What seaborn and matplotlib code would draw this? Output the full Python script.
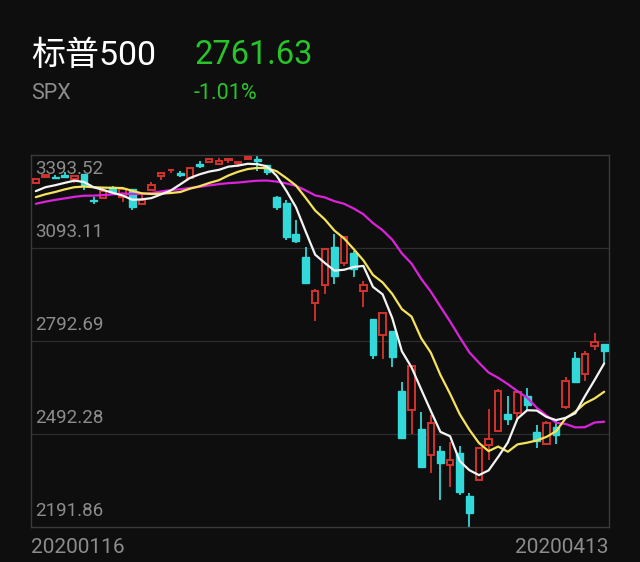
import numpy as np
import pandas as pd
import seaborn as sns
import matplotlib.pyplot as plt

# S&P 500 daily candles, 2020-01-16 .. 2020-04-13
dates = ["0116", "0117", "0121", "0122", "0123", "0124", "0127", "0128", "0129", "0130",
         "0131", "0203", "0204", "0205", "0206", "0207", "0210", "0211", "0212", "0213",
         "0214", "0218", "0219", "0220", "0221", "0224", "0225", "0226", "0227", "0228",
         "0302", "0303", "0304", "0305", "0306", "0309", "0310", "0311", "0312", "0313",
         "0316", "0317", "0318", "0319", "0320", "0323", "0324", "0325", "0326", "0327",
         "0330", "0331", "0401", "0402", "0403", "0406", "0407", "0408", "0409", "0413"]
opens = [3302.97, 3323.66, 3321.03, 3330.02, 3315.77, 3333.10, 3247.16, 3255.35, 3289.46, 3256.45,
         3282.33, 3235.66, 3280.61, 3324.91, 3344.92, 3335.54, 3318.28, 3365.87, 3370.50, 3365.90,
         3378.08, 3369.04, 3380.39, 3380.45, 3360.50, 3257.61, 3238.94, 3139.90, 3062.54, 2916.90,
         2974.28, 3096.46, 3045.75, 3075.70, 2954.20, 2863.89, 2813.48, 2825.60, 2630.86, 2569.99,
         2508.59, 2425.66, 2436.50, 2393.48, 2431.94, 2290.71, 2344.44, 2457.77, 2501.29, 2555.87,
         2558.98, 2614.69, 2498.08, 2458.54, 2514.92, 2578.28, 2738.65, 2685.00, 2776.99, 2782.46]
highs = [3317.11, 3329.88, 3329.79, 3337.77, 3326.88, 3333.18, 3258.85, 3285.78, 3293.47, 3285.91,
         3282.33, 3268.44, 3306.92, 3337.58, 3347.96, 3341.42, 3352.26, 3375.63, 3381.47, 3385.09,
         3380.69, 3375.01, 3393.52, 3389.15, 3360.76, 3259.81, 3246.99, 3182.51, 3097.07, 2959.72,
         3090.96, 3136.72, 3130.97, 3083.04, 2985.93, 2863.89, 2882.59, 2825.60, 2660.95, 2711.33,
         2562.98, 2553.93, 2453.57, 2466.97, 2453.01, 2300.73, 2449.71, 2571.42, 2637.01, 2615.91,
         2631.80, 2641.39, 2522.75, 2533.22, 2538.18, 2676.85, 2756.89, 2760.75, 2818.57, 2782.46]
lows = [3302.82, 3318.86, 3316.61, 3320.04, 3301.87, 3281.53, 3234.50, 3253.22, 3271.89, 3242.80,
        3214.68, 3235.66, 3280.61, 3313.75, 3334.39, 3322.12, 3317.77, 3352.72, 3369.72, 3360.52,
        3366.15, 3355.61, 3378.83, 3341.02, 3328.45, 3214.65, 3118.77, 3108.99, 2977.39, 2855.84,
        2945.19, 2976.63, 3034.38, 2999.83, 2901.54, 2734.43, 2734.00, 2707.22, 2478.86, 2492.37,
        2380.94, 2367.04, 2280.52, 2319.78, 2295.56, 2191.86, 2344.44, 2407.53, 2500.72, 2520.02,
        2545.28, 2571.15, 2447.49, 2455.79, 2459.96, 2574.57, 2657.67, 2663.30, 2762.36, 2721.17]
closes = [3316.81, 3329.62, 3320.79, 3321.75, 3325.54, 3295.47, 3243.63, 3276.24, 3273.40, 3283.66,
          3225.52, 3248.92, 3297.59, 3334.69, 3345.78, 3327.71, 3352.09, 3357.75, 3379.45, 3373.94,
          3380.16, 3370.29, 3386.15, 3373.23, 3337.75, 3225.89, 3128.21, 3116.39, 2978.76, 2954.22,
          3090.23, 3003.37, 3130.12, 3023.94, 2972.37, 2746.56, 2882.23, 2741.38, 2480.64, 2711.02,
          2386.13, 2529.19, 2398.10, 2409.39, 2304.92, 2237.40, 2447.33, 2475.56, 2630.07, 2541.47,
          2626.65, 2584.59, 2470.50, 2526.90, 2488.65, 2663.68, 2659.41, 2749.98, 2789.82, 2761.63]

# moving average lines as drawn (white / yellow / magenta)
ma5 = [3276.8, 3289.5, 3295.9, 3303.5, 3310.7, 3306.4, 3289.4, 3280.7, 3271.2, 3262.9,
       3249.1, 3250.1, 3254.3, 3266.4, 3278.7, 3298.8, 3319.3, 3331.1, 3340.0, 3345.5,
       3355.9, 3359.4, 3365.1, 3363.9, 3356.7, 3326.2, 3278.4, 3225.2, 3147.3, 3071.5,
       3044.8, 3020.1, 3022.8, 3031.8, 3035.3, 2967.5, 2943.5, 2866.8, 2759.5, 2707.9,
       2636.7, 2567.0, 2499.2, 2485.2, 2405.0, 2375.6, 2359.4, 2374.7, 2418.3, 2465.0,
       2541.9, 2569.0, 2568.0, 2547.6, 2537.2, 2544.5, 2559.2, 2614.4, 2666.4, 2720.3]
ma10 = [3257.4, 3266.7, 3274.0, 3282.4, 3289.5, 3291.6, 3289.4, 3288.2, 3287.3, 3286.8,
        3277.8, 3269.8, 3267.5, 3268.8, 3270.8, 3273.9, 3284.7, 3292.7, 3303.2, 3312.1,
        3327.4, 3339.4, 3348.1, 3351.9, 3351.1, 3341.1, 3319.0, 3295.1, 3255.6, 3214.1,
        3185.5, 3149.3, 3124.0, 3089.5, 3053.4, 3006.1, 2981.8, 2944.8, 2895.6, 2871.6,
        2802.1, 2755.3, 2683.0, 2622.3, 2556.5, 2506.2, 2463.2, 2437.0, 2451.7, 2435.0,
        2458.7, 2464.2, 2471.4, 2482.9, 2501.1, 2543.1, 2564.1, 2591.2, 2607.0, 2628.7]
ma20 = [3235.9, 3242.7, 3248.5, 3253.4, 3258.4, 3262.0, 3262.2, 3264.0, 3266.5, 3269.1,
        3267.5, 3268.2, 3270.8, 3275.6, 3280.2, 3282.8, 3287.1, 3290.5, 3295.3, 3299.4,
        3302.6, 3304.5, 3307.8, 3310.4, 3311.0, 3307.5, 3301.8, 3293.9, 3279.4, 3263.1,
        3256.5, 3244.3, 3236.0, 3220.7, 3202.3, 3173.5, 3150.4, 3119.9, 3075.6, 3042.9,
        2993.7, 2952.3, 2903.5, 2855.9, 2805.0, 2756.1, 2722.5, 2690.8, 2673.7, 2653.3,
        2630.4, 2609.8, 2577.2, 2552.6, 2528.7, 2524.7, 2513.7, 2514.1, 2529.3, 2531.9]

y_levels = [3393.52, 3093.11, 2792.69, 2492.28, 2191.86]
y_labels = ["3393.52", "3093.11", "2792.69", "2492.28", "2191.86"]
x_labels = ["20200116", "20200413"]

name = "标普500"
code = "SPX"
last_price = "2761.63"
change = "-1.01%"

bg = "#0e0e0e"
up_color = "#d4332c"
down_color = "#33d8d8"
green = "#27c42a"
label_gray = "#8c8c8c"

sns.set_style("dark", {"axes.facecolor": bg, "figure.facecolor": bg})
plt.rcParams["font.family"] = ["Roboto", "Noto Sans CJK SC", "DejaVu Sans"]

df = pd.DataFrame({"date": dates, "open": opens, "high": highs, "low": lows,
                   "close": closes, "ma5": ma5, "ma10": ma10, "ma20": ma20})
df["i"] = np.arange(len(df))
up = df[df["close"] >= df["open"]]
down = df[df["close"] < df["open"]]

fig = plt.figure(figsize=(6.4, 5.62), dpi=100, facecolor=bg)
ax = fig.add_axes([31 / 640, 35 / 562, 578 / 640, 372 / 562])
ax.set_facecolor(bg)

# grid lines
for v in y_levels[1:-1]:
    ax.axhline(v, color="#2e2e2e", lw=0.9, zorder=1)

# wicks
ax.vlines(down["i"], down["low"], down["high"], color=down_color, lw=1.3, zorder=2)
ax.vlines(up["i"], up["close"], up["high"], color=up_color, lw=1.3, zorder=2)
ax.vlines(up["i"], up["low"], up["open"], color=up_color, lw=1.3, zorder=2)

# bodies
ax.bar(down["i"], down["open"] - down["close"], bottom=down["close"], width=0.72,
       color=down_color, edgecolor=down_color, lw=1.0, zorder=3)
ax.bar(up["i"], up["close"] - up["open"], bottom=up["open"], width=0.66,
       facecolor=bg, edgecolor=up_color, lw=1.4, zorder=3)

# moving averages
sns.lineplot(data=df, x="i", y="ma20", color="#dc22dc", lw=1.6, ax=ax, zorder=4)
sns.lineplot(data=df, x="i", y="ma10", color="#f5e35c", lw=1.6, ax=ax, zorder=5)
sns.lineplot(data=df, x="i", y="ma5", color="#f4f4f4", lw=1.6, ax=ax, zorder=6)

ax.set_xlim(-0.5, len(df) - 0.5)
ax.set_ylim(y_levels[-1], y_levels[0])
ax.set_xticks([])
ax.set_yticks([])
ax.set_xlabel("")
ax.set_ylabel("")
ax.grid(False)
for s in ax.spines.values():
    s.set_visible(True)
    s.set_color("#3a3a3a")
    s.set_linewidth(1.0)

# price labels inside the plot
for v, lab in zip(y_levels, y_labels):
    if v == y_levels[0]:
        ax.annotate(lab, xy=(0, v), xycoords=("axes fraction", "data"),
                    xytext=(4, -5), textcoords="offset pixels",
                    va="top", ha="left", fontsize=13.5, color=label_gray)
    else:
        ax.annotate(lab, xy=(0, v), xycoords=("axes fraction", "data"),
                    xytext=(4, 7), textcoords="offset pixels",
                    va="bottom", ha="left", fontsize=13.5, color=label_gray)

# date labels
fig.text(31 / 640, 1 - 553 / 562, x_labels[0], fontsize=15, color=label_gray,
         ha="left", va="baseline")
fig.text(609 / 640, 1 - 553 / 562, x_labels[1], fontsize=15, color=label_gray,
         ha="right", va="baseline")

# header
fig.text(31 / 640, 1 - 65 / 562, name, fontsize=24.5, color="white", ha="left", va="baseline")
fig.text(194 / 640, 1 - 64 / 562, last_price, fontsize=23.5, color=green, ha="left", va="baseline")
fig.text(31 / 640, 1 - 99 / 562, code, fontsize=15.5, color=label_gray, ha="left", va="baseline")
fig.text(194 / 640, 1 - 99 / 562, change, fontsize=15.5, color=green, ha="left", va="baseline")

fig.savefig("out.png", dpi=100, facecolor=bg)
